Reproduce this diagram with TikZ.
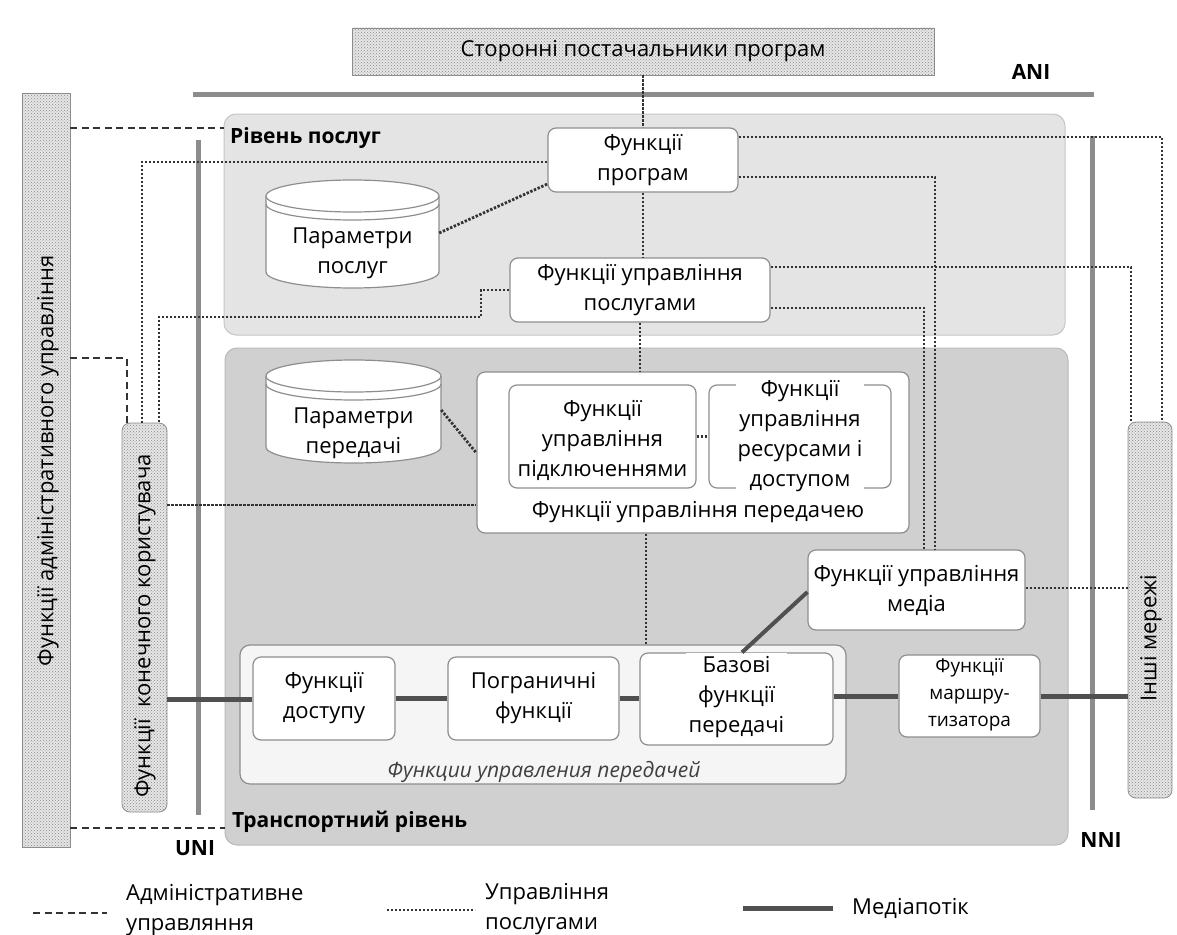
\documentclass[tikz,border=0pt]{standalone}
\usepackage{fontspec}
\setmainfont{Open Sans}
\usetikzlibrary{patterns}

\definecolor{svcfill}{HTML}{E4E4E4}
\definecolor{trnfill}{HTML}{D0D0D0}
\definecolor{stipbg}{HTML}{E6E6E6}
\definecolor{stipdot}{HTML}{8A8A8A}
\definecolor{boxline}{HTML}{8E8E8E}
\definecolor{ifacecol}{HTML}{8C8C8C}
\definecolor{mediacol}{HTML}{505050}
\definecolor{dotcol}{HTML}{333333}
\definecolor{dashcol}{HTML}{333333}

\tikzset{
  stip/.style={draw=boxline, line width=0.8pt, fill=stipbg,
    postaction={pattern=crosshatch dots, pattern color=stipdot}},
  layer/.style={rounded corners=12pt, line width=1pt},
  wbox/.style={draw=boxline, line width=1.2pt, fill=white, rounded corners=8pt,
    inner sep=0pt},
  lbl/.style={align=center, inner sep=0pt},
  ttl/.style={font=\bfseries\fontsize{21}{30}\selectfont, inner sep=0pt},
  svcline/.style={draw=dotcol, line width=2.8pt, dash pattern=on 2.4pt off 1.6pt},
  admline/.style={draw=dashcol, line width=2.6pt, dash pattern=on 7pt off 4.5pt},
  mediafl/.style={draw=mediacol, line width=5pt},
  iface/.style={draw=ifacecol, line width=5pt},
}

\begin{document}
\begin{tikzpicture}[x=1pt, y=-1pt, font=\fontsize{22}{30}\selectfont]
\useasboundingbox (0,0) rectangle (1177,934);
\fill[white] (0,0) rectangle (1177,934);

% ---------- layers ----------
\node[layer, draw=gray!45, fill=svcfill, minimum width=841, minimum height=221] (svc) at (644.5,224.5) {};
\node[layer, draw=gray!55, fill=trnfill, minimum width=843, minimum height=497] (trn) at (646.5,596.5) {};
\node[ttl, anchor=west] (svcttl) at (230,138) {Рівень послуг};
\node[ttl, anchor=west] (trnttl) at (232,822) {Транспортний рівень};

% ---------- external blocks ----------
\node[stip, minimum width=582, minimum height=47] (prov) at (643,51.5) {};
\node[lbl] (provtxt) at (643,51.5) {Сторонні постачальники програм};

\node[stip, minimum width=48, minimum height=754] (adm) at (46,470) {};
\node[lbl, rotate=90] (admtxt) at (48,461) {Функції адміністративного управління};

\node[stip, rounded corners=8pt, minimum width=45, minimum height=389] (usr) at (144.5,617.5) {};
\node[lbl, rotate=90] (usrtxt) at (145,626) {Функції \ конечного користувача};

\node[stip, rounded corners=8pt, minimum width=44, minimum height=376] (oth) at (1150,610) {};
\node[lbl, rotate=90] (othtxt) at (1151,638) {Інші мережі};

% ---------- interfaces ----------
\coordinate (aniL) at (193,94);
\coordinate (aniR) at (1094,94);
\coordinate (uniT) at (198,140);
\coordinate (uniB) at (198,815);
\coordinate (nniT) at (1092,136);
\coordinate (nniB) at (1092,810);
\draw[iface] (aniL) -- (aniR);
\draw[iface] (uniT) -- (uniB);
\draw[iface] (nniT) -- (nniB);
\node[ttl] (ani) at (1031,72) {ANI};
\node[ttl] (uni) at (195,848) {UNI};
\node[ttl] (nni) at (1101,840) {NNI};

% ---------- databases ----------
\node[minimum width=173, minimum height=108, inner sep=0pt] (cylA) at (352.5,234) {};
\path[draw=boxline, line width=1.2pt, fill=white] (266,196) -- (266,272)
  arc[start angle=180, end angle=0, x radius=86.5, y radius=16] -- (439,196);
\draw[boxline, line width=1.2pt, fill=white] (352.5,196) ellipse[x radius=86.5, y radius=16];
\draw[boxline, line width=1.2pt] (266,204) arc[start angle=180, end angle=0, x radius=86.5, y radius=16];
\node[lbl] (cylAtxt) at (352.5,253) {Параметри\\послуг};

\node[minimum width=175, minimum height=103, inner sep=0pt] (cylB) at (353.5,411.5) {};
\path[draw=boxline, line width=1.2pt, fill=white] (266,376) -- (266,447)
  arc[start angle=180, end angle=0, x radius=87.5, y radius=16] -- (441,376);
\draw[boxline, line width=1.2pt, fill=white] (353.5,376) ellipse[x radius=87.5, y radius=16];
\draw[boxline, line width=1.2pt] (266,384) arc[start angle=180, end angle=0, x radius=87.5, y radius=16];
\node[lbl] (cylBtxt) at (353.5,433) {Параметри\\передачі};

% ---------- service stratum functions ----------
\node[wbox, minimum width=190, minimum height=64] (prog) at (643,160) {};
\node[lbl] (progtxt) at (643,160) {Функції\\програм};
\node[wbox, minimum width=260, minimum height=64] (smgmt) at (640,290) {};
\node[lbl] (smgmttxt) at (640,290) {Функції управління\\послугами};

% ---------- transport control ----------
\node[wbox, minimum width=432, minimum height=161] (tctl) at (693,452.5) {};
\node[lbl] (tctltxt) at (698,512) {Функції управління передачею};
\node[wbox, minimum width=187, minimum height=103] (conn) at (602.5,436.5) {};
\node[lbl] (conntxt) at (602.5,440) {Функції\\управління\\підключеннями};
\node[wbox, minimum width=182, minimum height=103] (res) at (800,436.5) {};
\node[lbl, fill=white, inner sep=2pt] (restxt) at (800,436.5) {Функції\\управління\\ресурсами і\\доступом};

\node[wbox, minimum width=217, minimum height=80] (media) at (916.5,590) {};
\node[lbl] (mediatxt) at (916.5,590) {Функції управління\\медіа};

% ---------- transport functions ----------
\node[wbox, fill=white!96!black, rounded corners=10pt, minimum width=606, minimum height=139] (tfn) at (543,714.5) {};
\node[lbl, font=\itshape\fontsize{21}{30}\selectfont, text=black!75] (tfntxt) at (544,772) {Функции управления передачей};
\node[wbox, minimum width=142, minimum height=83] (access) at (324,698.5) {};
\node[lbl] (accesstxt) at (324,698.5) {Функції\\доступу};
\node[wbox, minimum width=171, minimum height=83] (border) at (533.5,698.5) {};
\node[lbl] (bordertxt) at (533.5,698.5) {Пограничні\\функції};
\node[wbox, minimum width=193, minimum height=92] (basic) at (736.5,699) {};
\node[lbl, fill=white, inner sep=3pt] (basictxt) at (736.5,697) {Базові\\функції\\передачі};
\node[wbox, minimum width=141, minimum height=82] (router) at (969.5,696) {};
\node[lbl, font=\fontsize{19}{27}\selectfont] (routertxt) at (969.5,695) {Функції\\маршру-\\тизатора};

% ---------- service control flows ----------
\draw[svcline] (prov.south) -- (prog.north);
\draw[svcline] (prog.south) -- (prog.south |- smgmt.north);
\draw[svcline] (smgmt.south) -- (smgmt.south |- tctl.north);
\draw[svcline] (tctl.south -| 646,0) -- (tfn.north -| 646,0);
\draw[svcline] (prog.west |- 0,162) -| (usr.north -| 142,0);
\draw[svcline] (cylA.east |- 0,233) -- (prog.west |- 0,184);
\draw[svcline] (smgmt.west) -- (481,290) |- (159,317) -- (usr.north -| 159,0);
\draw[svcline] (prog.east |- 0,137) -| (oth.north -| 1162,0);
\draw[svcline] (prog.east |- 0,177) -| (media.north -| 935,0);
\draw[svcline] (smgmt.east |- 0,267) -| (oth.north -| 1131,0);
\draw[svcline] (smgmt.east |- 0,308) -| (media.north -| 924,0);
\draw[svcline] (cylB.east |- 0,410) -- (tctl.west |- 0,453);
\draw[svcline] (usr.east |- 0,505) -- (tctl.west |- 0,505);
\draw[svcline] (conn.east) -- (res.west);
\draw[svcline] (media.east |- 0,588) -- (oth.west |- 0,588);

% ---------- administrative flows ----------
\draw[admline] (adm.east |- 0,128) -- (svc.west |- 0,128);
\draw[admline] (adm.east |- 0,358) -| (usr.north -| 127,0);
\draw[admline] (adm.east |- 0,828) -- (trn.west |- 0,828);

% ---------- media flows ----------
\draw[mediafl] (usr.east |- 0,699) -- (access.west |- 0,699);
\draw[mediafl] (access.east) -- (border.west);
\draw[mediafl] (border.east) -- (basic.west |- border.east);
\draw[mediafl] (basic.east |- router.west) -- (router.west);
\draw[mediafl] (router.east) -- (oth.west |- router.east);
\draw[mediafl, line width=4pt] (media.west |- 0,592) -- (basic.north -| 742,0);

% ---------- legend ----------
\coordinate (lgA1) at (33,913);
\coordinate (lgA2) at (107,913);
\draw[admline] (lgA1) -- (lgA2);
\node[lbl, align=left, anchor=west] (lgAtxt) at (126,910) {Адміністративне\\управляння};
\coordinate (lgB1) at (387,910);
\coordinate (lgB2) at (475,910);
\draw[svcline] (lgB1) -- (lgB2);
\node[lbl, align=left, anchor=west] (lgBtxt) at (485,909) {Управління\\послугами};
\coordinate (lgC1) at (743,908);
\coordinate (lgC2) at (833,908);
\draw[mediafl] (lgC1) -- (lgC2);
\node[lbl, anchor=west] (lgCtxt) at (852,908) {Медіапотік};
\end{tikzpicture}
\end{document}
